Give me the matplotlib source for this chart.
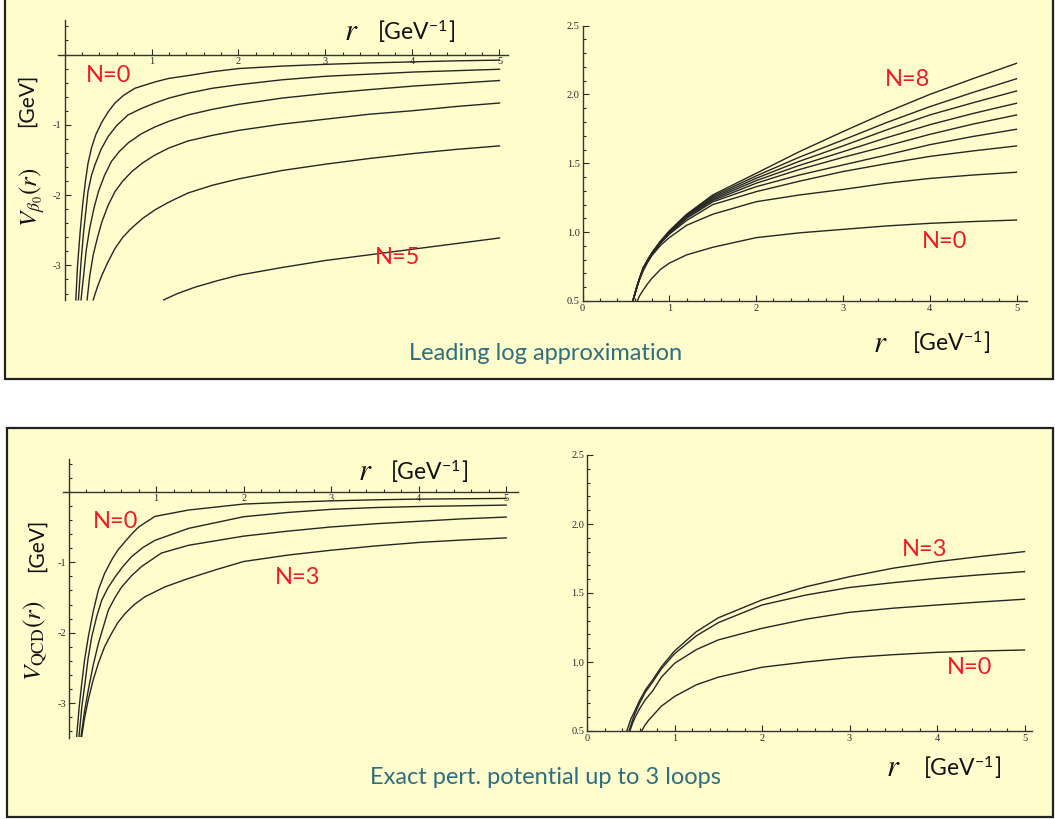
import matplotlib.pyplot as plt
from matplotlib.patches import Rectangle
from matplotlib.ticker import FixedLocator, MultipleLocator

plt.rcParams['mathtext.fontset'] = 'stix'
plt.rcParams['axes.unicode_minus'] = False

W, H = 1055, 819

# ---- values ----
# top left: leading log approximation, V(r) in GeV, N = 0..5
tl_r0 = [0.13, 0.15, 0.18, 0.21, 0.24, 0.27, 0.31, 0.36, 0.43, 0.50, 0.58, 0.68, 0.81, 1.04, 1.2, 1.42, 1.7, 2.0, 2.5, 3.0, 3.5, 4.0, 4.5, 5.0]
tl_v0 = [-3.49, -3.0, -2.52, -2.12, -1.81, -1.55, -1.33, -1.14, -0.96, -0.82, -0.69, -0.58, -0.48, -0.39, -0.34, -0.30, -0.245, -0.20, -0.165, -0.14, -0.12, -0.105, -0.09, -0.08]
tl_r1 = [0.16, 0.19, 0.22, 0.27, 0.31, 0.35, 0.42, 0.50, 0.6, 0.73, 0.88, 1.04, 1.2, 1.42, 1.7, 2.0, 2.5, 3.0, 3.5, 4.0, 4.5, 5.0]
tl_v1 = [-3.49, -2.95, -2.52, -1.95, -1.72, -1.57, -1.35, -1.17, -1.01, -0.86, -0.77, -0.69, -0.62, -0.55, -0.48, -0.43, -0.36, -0.31, -0.28, -0.25, -0.23, -0.21]
tl_r2 = [0.19, 0.22, 0.25, 0.29, 0.34, 0.39, 0.46, 0.54, 0.63, 0.73, 0.88, 1.04, 1.2, 1.42, 1.7, 2.0, 2.5, 3.0, 3.5, 4.0, 4.5, 5.0]
tl_v2 = [-3.49, -3.14, -2.78, -2.47, -2.18, -1.95, -1.72, -1.52, -1.38, -1.26, -1.13, -1.03, -0.95, -0.86, -0.78, -0.71, -0.62, -0.555, -0.50, -0.45, -0.41, -0.37]
tl_r3 = [0.26, 0.29, 0.33, 0.38, 0.43, 0.5, 0.58, 0.67, 0.77, 0.9, 1.04, 1.2, 1.42, 1.7, 2.0, 2.5, 3.0, 3.5, 4.0, 4.5, 5.0]
tl_v3 = [-3.49, -3.15, -2.85, -2.6, -2.38, -2.15, -1.95, -1.8, -1.67, -1.54, -1.43, -1.33, -1.23, -1.15, -1.08, -0.99, -0.92, -0.85, -0.80, -0.74, -0.69]
tl_r4 = [0.33, 0.38, 0.43, 0.5, 0.58, 0.67, 0.77, 0.9, 1.04, 1.2, 1.42, 1.7, 2.0, 2.5, 3.0, 3.5, 4.0, 4.5, 5.0]
tl_v4 = [-3.49, -3.3, -3.14, -2.95, -2.76, -2.6, -2.47, -2.33, -2.21, -2.1, -1.97, -1.86, -1.77, -1.65, -1.56, -1.48, -1.41, -1.35, -1.30]
tl_r5 = [1.14, 1.3, 1.5, 1.75, 2.0, 2.5, 3.0, 3.5, 4.0, 4.5, 5.0]
tl_v5 = [-3.49, -3.40, -3.31, -3.22, -3.14, -3.03, -2.93, -2.85, -2.77, -2.69, -2.61]

# top right: N = 0..8
tr_r = [0.58, 0.6, 0.63, 0.66, 0.7, 0.75, 0.8, 0.9, 1.0, 1.2, 1.5, 2.0, 2.5, 3.0, 3.5, 4.0, 4.5, 5.0]
tr_r0 = [0.63, 0.66, 0.7, 0.75, 0.8, 0.9, 1.0, 1.2, 1.5, 2.0, 2.5, 3.0, 3.5, 4.0, 4.5, 5.0]
tr_v0 = [0.5, 0.54, 0.58, 0.625, 0.665, 0.73, 0.775, 0.835, 0.89, 0.96, 0.995, 1.02, 1.045, 1.064, 1.077, 1.088]
tr_v1 = [0.5, 0.545, 0.605, 0.66, 0.72, 0.78, 0.83, 0.905, 0.96, 1.05, 1.13, 1.221, 1.27, 1.31, 1.355, 1.39, 1.415, 1.435]
tr_v2 = [0.5, 0.545, 0.61, 0.665, 0.732, 0.79, 0.84, 0.92, 0.985, 1.085, 1.20, 1.294, 1.37, 1.44, 1.497, 1.55, 1.59, 1.626]
tr_v3 = [0.5, 0.545, 0.61, 0.667, 0.735, 0.792, 0.843, 0.925, 0.99, 1.10, 1.22, 1.33, 1.415, 1.488, 1.56, 1.635, 1.695, 1.747]
tr_v4 = [0.5, 0.545, 0.61, 0.668, 0.737, 0.794, 0.845, 0.928, 0.995, 1.11, 1.23, 1.355, 1.455, 1.543, 1.625, 1.71, 1.785, 1.851]
tr_v5 = [0.5, 0.545, 0.61, 0.669, 0.738, 0.795, 0.846, 0.93, 0.998, 1.115, 1.24, 1.374, 1.485, 1.584, 1.685, 1.78, 1.862, 1.936]
tr_v6 = [0.5, 0.545, 0.61, 0.67, 0.74, 0.797, 0.848, 0.932, 1.0, 1.12, 1.25, 1.391, 1.515, 1.626, 1.742, 1.851, 1.94, 2.025]
tr_v7 = [0.5, 0.545, 0.61, 0.67, 0.74, 0.798, 0.85, 0.935, 1.005, 1.125, 1.26, 1.408, 1.545, 1.669, 1.795, 1.911, 2.015, 2.114]
tr_v8 = [0.5, 0.545, 0.61, 0.67, 0.74, 0.798, 0.85, 0.935, 1.01, 1.13, 1.27, 1.427, 1.585, 1.73, 1.87, 2.0, 2.115, 2.226]

# bottom left: exact perturbative potential, N = 0..3
bl_r0 = [0.091, 0.12, 0.149, 0.18, 0.224, 0.28, 0.34, 0.41, 0.49, 0.56, 0.643, 0.72, 0.80, 0.986, 1.37, 2.0, 2.5, 3.0, 3.5, 4.0, 4.5, 5.0]
bl_v0 = [-3.47, -3.05, -2.72, -2.40, -2.06, -1.70, -1.39, -1.16, -0.97, -0.83, -0.71, -0.60, -0.50, -0.35, -0.26, -0.175, -0.15, -0.13, -0.115, -0.105, -0.10, -0.095]
bl_r1 = [0.118, 0.15, 0.186, 0.22, 0.263, 0.32, 0.377, 0.45, 0.53, 0.62, 0.72, 0.85, 0.986, 1.37, 2.0, 2.5, 3.0, 3.5, 4.0, 4.5, 5.0]
bl_v1 = [-3.47, -3.05, -2.72, -2.38, -2.06, -1.77, -1.54, -1.36, -1.21, -1.06, -0.92, -0.79, -0.69, -0.52, -0.355, -0.295, -0.25, -0.225, -0.21, -0.20, -0.19]
bl_r2 = [0.141, 0.18, 0.224, 0.28, 0.34, 0.40, 0.453, 0.53, 0.606, 0.72, 0.834, 1.06, 1.37, 2.0, 2.5, 3.0, 3.5, 4.0, 4.5, 5.0]
bl_v2 = [-3.47, -3.12, -2.81, -2.46, -2.15, -1.90, -1.68, -1.50, -1.35, -1.19, -1.06, -0.87, -0.76, -0.63, -0.56, -0.50, -0.455, -0.42, -0.385, -0.36]
bl_r3 = [0.149, 0.18, 0.224, 0.28, 0.34, 0.41, 0.49, 0.56, 0.643, 0.75, 0.872, 1.10, 1.37, 1.7, 2.0, 2.5, 3.0, 3.5, 4.0, 4.5, 5.0]
bl_v3 = [-3.47, -3.22, -2.95, -2.67, -2.43, -2.20, -2.01, -1.86, -1.73, -1.60, -1.49, -1.35, -1.23, -1.10, -0.99, -0.90, -0.83, -0.77, -0.72, -0.685, -0.655]

# bottom right: N = 0..3
br_r0 = [0.625, 0.66, 0.7, 0.75, 0.85, 1.0, 1.25, 1.5, 2.0, 2.5, 3.0, 3.5, 4.0, 4.5, 5.0]
br_v0 = [0.5, 0.54, 0.575, 0.61, 0.68, 0.75, 0.835, 0.89, 0.962, 1.0, 1.032, 1.053, 1.07, 1.08, 1.087]
br_r1 = [0.49, 0.52, 0.55, 0.6, 0.67, 0.75, 0.85, 1.0, 1.25, 1.5, 2.0, 2.5, 3.0, 3.5, 4.0, 4.5, 5.0]
br_v1 = [0.5, 0.555, 0.6, 0.66, 0.73, 0.79, 0.89, 0.99, 1.09, 1.16, 1.244, 1.31, 1.36, 1.39, 1.413, 1.435, 1.455]
br_r2 = [0.48, 0.51, 0.55, 0.6, 0.67, 0.75, 0.85, 1.0, 1.25, 1.5, 2.0, 2.5, 3.0, 3.5, 4.0, 4.5, 5.0]
br_v2 = [0.5, 0.56, 0.63, 0.70, 0.785, 0.855, 0.95, 1.06, 1.19, 1.285, 1.413, 1.485, 1.54, 1.575, 1.606, 1.632, 1.655]
br_r3 = [0.455, 0.5, 0.55, 0.6, 0.67, 0.75, 0.85, 1.0, 1.25, 1.5, 2.0, 2.5, 3.0, 3.5, 4.0, 4.5, 5.0]
br_v3 = [0.5, 0.585, 0.65, 0.72, 0.80, 0.87, 0.965, 1.08, 1.22, 1.32, 1.45, 1.545, 1.618, 1.68, 1.727, 1.765, 1.80]

BOX_COLOR = '#FFFDCC'
RED = '#EE1C25'
TEAL = '#2E6E7E'
LINE = '#262626'
LABEL_FONT = ['Lato', 'DejaVu Sans']


def fxy(x, y):
    # pixel position (from top left) to figure fraction
    return x / W, 1 - y / H


def axes_px(fig, left, top, width, height):
    return fig.add_axes([left / W, 1 - (top + height) / H, width / W, height / H])


def style(ax, xlim, ylim, xmaj, ymaj, ymin_step, cross, xspan, yspan, yfmt):
    ax.set_facecolor('none')
    ax.set_xlim(xlim)
    ax.set_ylim(ylim)
    for s in ['top', 'right']:
        ax.spines[s].set_visible(False)
    if cross:
        ax.spines['left'].set_position(('data', 0))
        ax.spines['bottom'].set_position(('data', 0))
    ax.spines['left'].set_bounds(*yspan)
    ax.spines['bottom'].set_bounds(*xspan)
    for s in ['left', 'bottom']:
        ax.spines[s].set_color('#333333')
        ax.spines[s].set_linewidth(1.0)
    ax.xaxis.set_major_locator(FixedLocator(xmaj))
    ax.xaxis.set_minor_locator(MultipleLocator(0.2))
    ax.yaxis.set_major_locator(FixedLocator(ymaj))
    ax.yaxis.set_minor_locator(MultipleLocator(ymin_step))
    ax.set_xticklabels([str(v) for v in xmaj])
    ax.set_yticklabels([yfmt.format(v) for v in ymaj])
    ax.tick_params(which='both', direction='in', colors='#2a2a2a', width=0.8,
                   labelsize=7.5, pad=2)
    ax.tick_params(which='major', length=4.5)
    ax.tick_params(which='minor', length=2.2)
    for lab in ax.get_xticklabels() + ax.get_yticklabels():
        lab.set_family('Liberation Serif')


def r_label(fig, xr, xg, y):
    fig.text(*fxy(xr, y), '$r$', fontsize=22, ha='center', va='center', color='#111111')
    fig.text(*fxy(xg, y), '[GeV$^{\\mathdefault{-1}}$]', fontsize=16.5, family=LABEL_FONT,
             ha='left', va='center', color='#111111')


def n_label(fig, x, y, s):
    fig.text(*fxy(x, y), s, fontsize=17, family=LABEL_FONT, color=RED, ha='left', va='center')


fig = plt.figure(figsize=(W / 100, H / 100), dpi=100)
fig.patch.set_facecolor('white')

# the two framed boxes
fig.patches.append(Rectangle(fxy(5, 379), 1048 / W, 390 / H, transform=fig.transFigure,
                             facecolor=BOX_COLOR, edgecolor='#222222', lw=1.6, zorder=-10))
fig.patches.append(Rectangle(fxy(7, 817), 1046 / W, 389 / H, transform=fig.transFigure,
                             facecolor=BOX_COLOR, edgecolor='#222222', lw=1.6, zorder=-10))

# top left
ax1 = axes_px(fig, 64.5 - 0.1 * 87, 54.5 - 0.5 * 70.3, 5.25 * 87, 4.0 * 70.3)
style(ax1, (-0.1, 5.15), (-3.5, 0.5), [1, 2, 3, 4, 5], [-3, -2, -1], 0.2, True,
      (-0.07, 5.1), (-3.49, 0.49), '{:d}')
for r, v in [(tl_r0, tl_v0), (tl_r1, tl_v1), (tl_r2, tl_v2), (tl_r3, tl_v3), (tl_r4, tl_v4), (tl_r5, tl_v5)]:
    ax1.plot(r, v, color=LINE, lw=1.0, clip_on=False)

# top right
ax2 = axes_px(fig, 582.5, 301 - 2.05 * 137.7, 5.15 * 86.8, 2.05 * 137.7)
style(ax2, (0, 5.15), (0.5, 2.55), [0, 1, 2, 3, 4, 5], [0.5, 1.0, 1.5, 2.0, 2.5], 0.1, False,
      (0, 5.12), (0.5, 2.5), '{:.1f}')
ax2.plot(tr_r0, tr_v0, color=LINE, lw=1.0)
for v in [tr_v1, tr_v2, tr_v3, tr_v4, tr_v5, tr_v6, tr_v7, tr_v8]:
    ax2.plot(tr_r, v, color=LINE, lw=1.0)

# bottom left
ax3 = axes_px(fig, 68.7 - 0.1 * 87.5, 491.7 - 0.5 * 70.5, 5.25 * 87.5, 4.0 * 70.5)
style(ax3, (-0.1, 5.15), (-3.5, 0.5), [1, 2, 3, 4, 5], [-3, -2, -1], 0.2, True,
      (-0.07, 5.13), (-3.49, 0.47), '{:d}')
for r, v in [(bl_r0, bl_v0), (bl_r1, bl_v1), (bl_r2, bl_v2), (bl_r3, bl_v3)]:
    ax3.plot(r, v, color=LINE, lw=1.0, clip_on=False)

# bottom right
ax4 = axes_px(fig, 587, 731 - 2.05 * 138, 5.15 * 87.5, 2.05 * 138)
style(ax4, (0, 5.15), (0.5, 2.55), [0, 1, 2, 3, 4, 5], [0.5, 1.0, 1.5, 2.0, 2.5], 0.1, False,
      (0, 5.08), (0.5, 2.5), '{:.1f}')
for r, v in [(br_r0, br_v0), (br_r1, br_v1), (br_r2, br_v2), (br_r3, br_v3)]:
    ax4.plot(r, v, color=LINE, lw=1.0)

# annotations
n_label(fig, 86, 76, 'N=0')
n_label(fig, 375, 258, 'N=5')
n_label(fig, 885, 80, 'N=8')
n_label(fig, 922, 242, 'N=0')
n_label(fig, 93, 522, 'N=0')
n_label(fig, 275, 578, 'N=3')
n_label(fig, 902, 550, 'N=3')
n_label(fig, 947, 668, 'N=0')

r_label(fig, 351, 377, 32)
r_label(fig, 880, 912, 343)
r_label(fig, 365, 390, 472)
r_label(fig, 893, 923, 768)

fig.text(*fxy(27, 100), '[GeV]', fontsize=15, family=LABEL_FONT, rotation=90,
         ha='center', va='center', color='#111111')
fig.text(*fxy(32, 197), r'$V_{\beta_0}(r)$', fontsize=18, rotation=90,
         ha='center', va='center', color='#111111')
fig.text(*fxy(37, 545), '[GeV]', fontsize=15, family=LABEL_FONT, rotation=90,
         ha='center', va='center', color='#111111')
fig.text(*fxy(35, 641), r'$V_{\mathrm{QCD}}(r)$', fontsize=18, rotation=90,
         ha='center', va='center', color='#111111')

fig.text(*fxy(546, 353), 'Leading log approximation', fontsize=17, family=LABEL_FONT,
         color=TEAL, ha='center', va='center')
fig.text(*fxy(546, 778), 'Exact pert. potential up to 3 loops', fontsize=17, family=LABEL_FONT,
         color=TEAL, ha='center', va='center')

fig.savefig('out.png', dpi=100)
